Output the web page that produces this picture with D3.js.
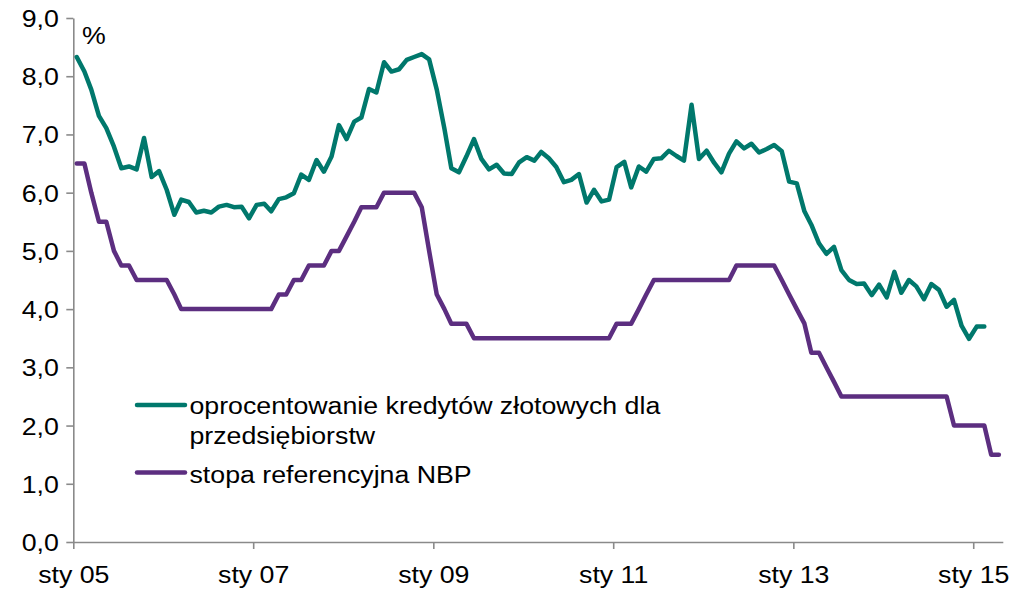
<!DOCTYPE html>
<html><head><meta charset="utf-8">
<script src="https://cdn.jsdelivr.net/npm/d3@7"></script>
<style>
body{margin:0;background:#fff}
svg{display:block}
text{font-family:"Liberation Sans",Arial,sans-serif;fill:#000}
</style>
</head><body>
<svg id="c" width="1019" height="590"></svg>
<script>
// ---- data (monthly, starting January 2005) ----
const startYear = 2005;
const loanRate = [8.33,8.08,7.77,7.32,7.11,6.79,6.42,6.45,6.40,6.94,
6.27,6.37,6.05,5.62,5.88,5.84,5.66,5.69,5.66,5.76,
5.79,5.75,5.76,5.56,5.79,5.81,5.68,5.89,5.92,5.99,
6.31,6.22,6.56,6.36,6.62,7.16,6.92,7.22,7.29,7.78,
7.72,8.24,8.08,8.12,8.28,8.33,8.38,8.29,7.77,7.10,
6.42,6.35,6.62,6.92,6.58,6.40,6.48,6.33,6.32,6.52,
6.61,6.55,6.70,6.59,6.44,6.18,6.22,6.32,5.83,6.05,
5.85,5.88,6.44,6.53,6.09,6.45,6.36,6.58,6.59,6.72,
6.63,6.55,7.51,6.58,6.72,6.51,6.35,6.67,6.88,6.76,
6.84,6.69,6.75,6.82,6.71,6.19,6.16,5.68,5.45,5.13,
4.95,5.07,4.67,4.50,4.43,4.44,4.24,4.42,4.20,4.64,
4.28,4.50,4.39,4.17,4.43,4.33,4.04,4.16,3.71,3.49,
3.70,3.70];
const refRate = [6.5,6.5,6.0,5.5,5.5,5.0,4.75,4.75,4.5,4.5,
4.5,4.5,4.5,4.25,4.0,4.0,4.0,4.0,4.0,4.0,
4.0,4.0,4.0,4.0,4.0,4.0,4.0,4.25,4.25,4.5,
4.5,4.75,4.75,4.75,5.0,5.0,5.25,5.5,5.75,5.75,
5.75,6.0,6.0,6.0,6.0,6.0,5.75,5.0,4.25,4.0,
3.75,3.75,3.75,3.5,3.5,3.5,3.5,3.5,3.5,3.5,
3.5,3.5,3.5,3.5,3.5,3.5,3.5,3.5,3.5,3.5,
3.5,3.5,3.75,3.75,3.75,4.0,4.25,4.5,4.5,4.5,
4.5,4.5,4.5,4.5,4.5,4.5,4.5,4.5,4.75,4.75,
4.75,4.75,4.75,4.75,4.5,4.25,4.0,3.75,3.25,3.25,
3.0,2.75,2.5,2.5,2.5,2.5,2.5,2.5,2.5,2.5,
2.5,2.5,2.5,2.5,2.5,2.5,2.5,2.0,2.0,2.0,
2.0,2.0,1.5,1.5];
const tickYears = [2005,2007,2009,2011,2013,2015];
const tickLabels = ["sty 05","sty 07","sty 09","sty 11","sty 13","sty 15"];
const yTicks = [0,1,2,3,4,5,6,7,8,9];
const legendLines1 = ["oprocentowanie kredytów złotowych dla","przedsiębiorstw"];
const legendLines2 = ["stopa referencyjna NBP"];
const colors = ["#00786C","#5C2E80"];

// ---- chart ----
const svg = d3.select("#c");
const SX = 1.1, FS = 24.3;
const axisColor = "#8A8A8A";
const monthDate = i => new Date(startYear, i, 15);

const x = d3.scaleTime()
  .domain([new Date(2005,0,1), new Date(2015,4,1)])
  .range([73.3, 1002.8]);
const y = d3.scaleLinear().domain([0,9]).range([542,18]);

// y axis
const gy = svg.append("g").attr("transform","translate(73.3,0)")
  .call(d3.axisLeft(y).tickValues(yTicks).tickSize(7).tickSizeOuter(0)
    .tickFormat(d => d.toFixed(1).replace(".",",")));
gy.select(".domain").attr("stroke",axisColor).attr("stroke-width",1.6);
gy.selectAll(".tick line").attr("stroke",axisColor).attr("stroke-width",1.6);
gy.selectAll(".tick text").attr("x",-14.5/SX).attr("dy","0.35em")
  .attr("transform",`scale(${SX},1)`).style("font-size",FS+"px").attr("fill","#000");

// x axis
const gx = svg.append("g").attr("transform","translate(0,542)")
  .call(d3.axisBottom(x).tickValues(tickYears.map(yy => new Date(yy,0,1)))
    .tickSize(7).tickSizeOuter(0).tickFormat((d,i) => tickLabels[i]));
gx.select(".domain").attr("stroke",axisColor).attr("stroke-width",1.6);
gx.selectAll(".tick line").attr("stroke",axisColor).attr("stroke-width",1.6);
gx.selectAll(".tick text").attr("y",41.5).attr("dy",null)
  .attr("transform",`scale(${SX},1)`).style("font-size",FS+"px").attr("fill","#000");

// unit label
svg.append("text").attr("x",82/SX).attr("y",44).attr("transform",`scale(${SX},1)`)
  .style("font-size",FS+"px").text("%");

// lines
const line = d3.line().x((d,i) => x(monthDate(i))).y(d => y(d));
[loanRate, refRate].forEach((s,k) => {
  svg.append("path").datum(s).attr("d",line)
    .attr("fill","none").attr("stroke",colors[k]).attr("stroke-width",4.5)
    .attr("stroke-linejoin","round").attr("stroke-linecap","round");
});

// legend
const legend = [
  {lines: legendLines1, ly: 405, ty: 414},
  {lines: legendLines2, ly: 472.5, ty: 483.5}
];
legend.forEach((L,k) => {
  svg.append("line").attr("x1",137).attr("x2",185).attr("y1",L.ly).attr("y2",L.ly)
    .attr("stroke",colors[k]).attr("stroke-width",4.5).attr("stroke-linecap","round");
  L.lines.forEach((t,j) => {
    svg.append("text").attr("x",189.5/SX).attr("y",L.ty + j*30)
      .attr("transform",`scale(${SX},1)`).style("font-size",FS+"px").text(t);
  });
});
</script>
</body></html>
